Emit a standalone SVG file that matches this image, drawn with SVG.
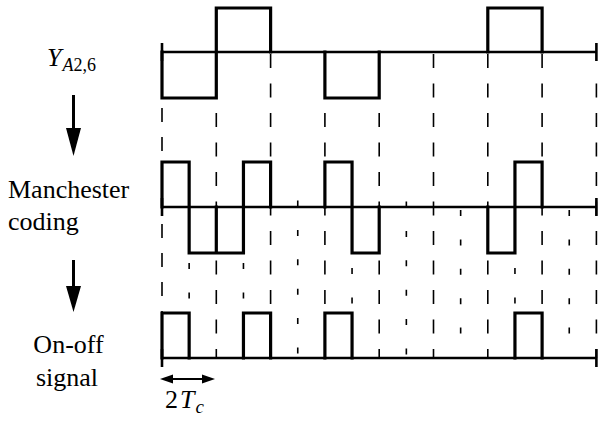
<svg xmlns="http://www.w3.org/2000/svg" width="600" height="429" viewBox="0 0 600 429">
<style>
.axis{stroke:#000;stroke-width:2.6;fill:none}
.sig{stroke:#000;stroke-width:3.2;fill:none;stroke-linejoin:miter;stroke-linecap:square}
.full{stroke:#000;stroke-width:1.6;stroke-dasharray:14 15.5;fill:none}
.half{stroke:#000;stroke-width:1.6;stroke-dasharray:6 23.4;fill:none}
.arr{stroke:#000;stroke-width:3;fill:none}
.head{fill:#000}
text{font-family:'Liberation Serif','Times New Roman',serif;font-size:26px;fill:#000}
</style>
<rect width="600" height="429" fill="#fff"/>
<g id="grid">
<line class="full" x1="162" y1="108" x2="162" y2="358" style="stroke-dasharray:14 15"/>
<line class="full" x1="216.3" y1="54" x2="216.3" y2="358"/>
<line class="full" x1="270.6" y1="54" x2="270.6" y2="358"/>
<line class="full" x1="324.9" y1="54" x2="324.9" y2="358"/>
<line class="full" x1="379.2" y1="54" x2="379.2" y2="358"/>
<line class="full" x1="433.5" y1="54" x2="433.5" y2="358"/>
<line class="full" x1="487.8" y1="54" x2="487.8" y2="358"/>
<line class="full" x1="542.1" y1="54" x2="542.1" y2="358"/>
<line class="full" x1="596.4" y1="83.5" x2="596.4" y2="358"/>
<line class="half" x1="189.15" y1="263" x2="189.15" y2="358"/>
<line class="half" x1="243.45" y1="263" x2="243.45" y2="358"/>
<line class="half" x1="297.75" y1="200.5" x2="297.75" y2="358"/>
<line class="half" x1="352.05" y1="268" x2="352.05" y2="358"/>
<line class="half" x1="406.35" y1="201.5" x2="406.35" y2="358"/>
<line class="half" x1="460.65" y1="210" x2="460.65" y2="358"/>
<line class="half" x1="514.95" y1="268" x2="514.95" y2="358"/>
<line class="half" x1="569.25" y1="210" x2="569.25" y2="358"/>
</g>
<g id="signal-y">
<path class="axis" d="M162,52H596.4M162,43V61M596.4,43V61"/>
<path class="sig" d="M162,52V98H216.3V8H270.6V52M324.9,52V98H379.2V52M487.8,52V8H542.1V52"/>
</g>
<g id="signal-manchester">
<path class="axis" d="M162,207H596.4M162,198V216M596.4,198V216"/>
<path class="sig" d="M162,207V162H189.15V253H216.3V207M216.3,207V253H243.45V162H270.6V207M324.9,207V162H352.05V253H379.2V207M487.8,207V253H514.95V162H542.1V207"/>
</g>
<g id="signal-onoff">
<path class="axis" d="M162,358H596.4M162,349V367M596.4,349V367"/>
<path class="sig" d="M162,358V313H189.15V358M243.45,358V313H270.6V358M324.9,358V313H352.05V358M514.95,358V313H542.1V358"/>
</g>
<g id="label-y">
<text x="47" y="66" font-style="italic">Y<tspan style="font-size:18px" dy="5" dx="1">A</tspan><tspan style="font-size:18px;font-style:normal">2,6</tspan></text>
</g>
<g id="label-manchester">
<text x="8" y="198">Manchester</text>
<text x="8" y="230">coding</text>
</g>
<g id="label-onoff">
<text x="68.5" y="353" text-anchor="middle">On-off</text>
<text x="67" y="386" text-anchor="middle">signal</text>
</g>
<g id="label-2tc">
<text x="165" y="408">2<tspan font-style="italic" dx="2">T</tspan><tspan style="font-size:19px;font-style:italic" dy="5" dx="1">c</tspan></text>
</g>
<g id="connectors">
<line class="arr" x1="73.5" y1="95" x2="73.5" y2="130"/>
<polygon class="head" points="66,128 81,128 73.5,156"/>
<line class="arr" x1="73.5" y1="260" x2="73.5" y2="288"/>
<polygon class="head" points="66,286 81,286 73.5,312"/>
<line stroke="#000" stroke-width="2" x1="170" y1="379" x2="205" y2="379"/>
<polygon class="head" points="160,379 173,374.5 173,383.5"/>
<polygon class="head" points="215,379 202,374.5 202,383.5"/>
</g>
</svg>
